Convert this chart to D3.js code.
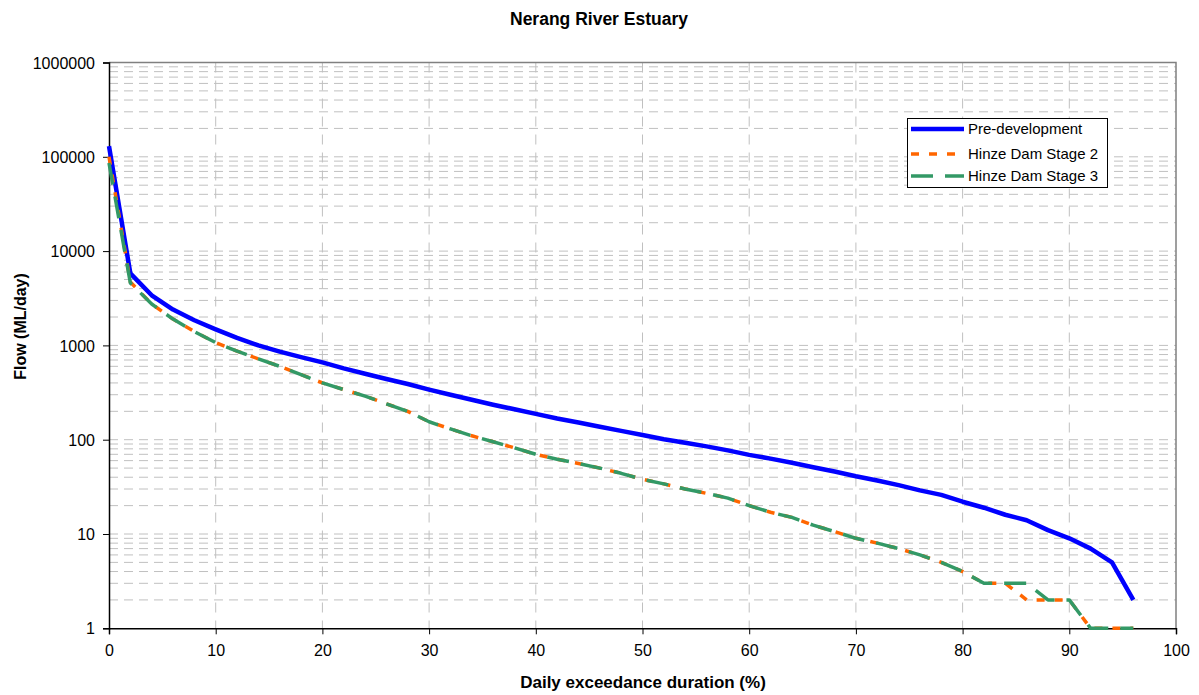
<!DOCTYPE html>
<html><head><meta charset="utf-8">
<script src="https://cdn.jsdelivr.net/npm/d3@7"></script>
<style>body{margin:0;background:#fff}svg{display:block;font-family:"Liberation Sans",Arial,sans-serif}</style>
</head><body><svg id="c" width="1199" height="695"></svg>
<script>
const exceedance = [0,2,4,6,8,10,12,14,16,18,20,22,24,26,28,30,32,34,36,38,40,42,44,46,48,50,52,54,56,58,60,62,64,66,68,70,72,74,76,78,80,82,84,86,88,90,92,94,96];
const preDevelopment = [130000,5800,3400,2400,1850,1480,1200,1000,860,750,660,570,500,440,390,340,300,265,235,210,188,168,152,137,124,112,101,93,85,77,69,63,57,51,46,41,37,33,29,26,22,19,16,14,11,9,7,5,2];
const hinzeStage2 = [100000,4700,2750,1900,1400,1070,870,720,600,490,400,340,290,240,200,155,130,110,95,82,70,62,56,50,44,38,34,30,27,24,20,17,15,12.4,10.6,9,8,7,6,5,4,3,3,2,2,2,1,1,1];
const hinzeStage3 = [86000,4600,2750,1900,1400,1070,870,720,600,490,400,340,290,240,200,155,130,110,95,82,70,62,56,50,44,38,34,30,27,24,20,17,15,12.4,10.6,9,8,7,6,5,4,3,3,3,2,2,1,1,1];
const seriesNames = ["Pre-development","Hinze Dam Stage 2","Hinze Dam Stage 3"];
const xTicks = [0,10,20,30,40,50,60,70,80,90,100];
const yTicks = [1,10,100,1000,10000,100000,1000000];
const yTickLabels = ["1","10","100","1000","10000","100000","1000000"];

const svg = d3.select("#c");
const L=109, R=1176, T=62.5, B=628.3;
const x = d3.scaleLinear().domain([0,100]).range([L,R]);
const y = d3.scaleLog().domain([1,1e6]).range([B,T]);

// minor gridlines
const minor = [];
for (let e=0;e<6;e++) for (let m=1;m<=9;m++) minor.push(m*Math.pow(10,e));
svg.append("g").selectAll("line").data(minor.filter(v=>v>1&&v<1e6)).join("line")
  .attr("x1",L).attr("x2",R).attr("y1",d=>y(d)).attr("y2",d=>y(d))
  .attr("stroke","#c0c0c0").attr("stroke-width",1).attr("stroke-dasharray","9,6");
svg.append("g").selectAll("line").data(xTicks.filter(v=>v>0&&v<100)).join("line")
  .attr("x1",d=>x(d)).attr("x2",d=>x(d)).attr("y1",T).attr("y2",B)
  .attr("stroke","#c0c0c0").attr("stroke-width",1).attr("stroke-dasharray","10,8");

// border top/right
svg.append("path").attr("d",`M${L},${T}H${R}V${B}`).attr("fill","none").attr("stroke","#808080").attr("stroke-width",1.5);

// axes
const xAxis = d3.axisBottom(x).tickValues(xTicks).tickSize(6).tickPadding(10).tickFormat(d3.format("d"));
const gx = svg.append("g").attr("transform",`translate(0,${B})`).call(xAxis);
const yAxis = d3.axisLeft(y).tickValues(yTicks).tickSize(6).tickPadding(8).tickFormat((d,i)=>yTickLabels[i]);
const gy = svg.append("g").attr("transform",`translate(${L},0)`).call(yAxis);
[gx,gy].forEach(g=>{
  g.selectAll("text").attr("font-size",16).attr("fill","#000").attr("font-family","Liberation Sans, Arial, sans-serif");
  g.selectAll("line").attr("stroke","#000");
  g.select(".domain").attr("stroke","#000").attr("stroke-width",1.5);
});
gy.selectAll("text").attr("dy","0.35em");
gx.selectAll("text").attr("dy","0.71em");

// lines
const line = d3.line().x((d,i)=>x(exceedance[i])).y(d=>y(d));
const styles = [
  {data:preDevelopment,color:"#0000FF",w:4.5,dash:null},
  {data:hinzeStage2,color:"#FF6600",w:3.5,dash:"8,10"},
  {data:hinzeStage3,color:"#339966",w:3.5,dash:"22,12"}
];
styles.forEach(s=>{
  svg.append("path").attr("d",line(s.data)).attr("fill","none").attr("stroke",s.color)
    .attr("stroke-width",s.w).attr("stroke-dasharray",s.dash).attr("stroke-linejoin","round");
});

// title & labels
svg.append("text").attr("x",599).attr("y",25).attr("text-anchor","middle").attr("font-weight","bold").attr("font-size",17.5).text("Nerang River Estuary");
svg.append("text").attr("x",643).attr("y",688).attr("text-anchor","middle").attr("font-weight","bold").attr("font-size",17).text("Daily exceedance duration (%)");
svg.append("text").attr("transform","translate(26,326.5) rotate(-90)").attr("text-anchor","middle").attr("font-weight","bold").attr("font-size",16).text("Flow (ML/day)");

// legend
const lg = svg.append("g");
lg.append("rect").attr("x",907.5).attr("y",118.5).attr("width",200).attr("height",69).attr("fill","#fff").attr("stroke","#000").attr("stroke-width",1);
const rowY=[129,154,176];
styles.forEach((s,i)=>{
  lg.append("line").attr("x1",911).attr("x2",964).attr("y1",rowY[i]).attr("y2",rowY[i])
    .attr("stroke",s.color).attr("stroke-width",s.w).attr("stroke-dasharray",s.dash);
  lg.append("text").attr("x",968).attr("y",rowY[i]).attr("dy","0.35em").attr("font-size",15).text(seriesNames[i]);
});
</script></body></html>
